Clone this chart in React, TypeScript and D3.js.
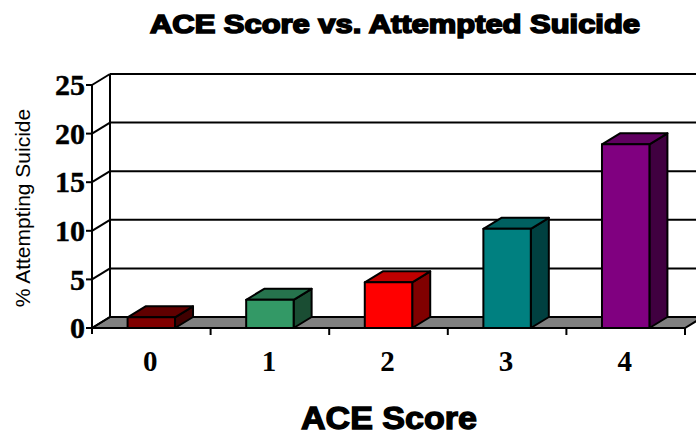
import React from "react";
import * as d3 from "d3";

const categories = ["0", "1", "2", "3", "4"];
const values = [1.1, 2.9, 4.7, 10.2, 18.9];
const yTicks = [0, 5, 10, 15, 20, 25];
const frontColors = ["#800000", "#339966", "#FF0000", "#008080", "#800080"];
const topColors = ["#600000", "#26734d", "#C00000", "#006060", "#600060"];
const sideColors = ["#400000", "#1a4d33", "#800000", "#004040", "#400040"];

const W = 696;
const H = 436;
const DX = 18;
const DY = -11;

export default function App() {
  const x = d3.scaleBand<string>().domain(categories).range([92, 685]);
  const y = d3.scaleLinear().domain([0, 25]).range([328, 85]);
  const bw = x.bandwidth();
  const barW = bw * 0.4;
  const y0 = y(0);
  const xL = 92;
  const xR = 685;

  return (
    <svg
      width={W}
      height={H}
      style={{ position: "absolute", left: 0, top: 0, background: "#fff" }}
    >
      {/* floor */}
      <polygon
        points={`${xL},${y0} ${xL + DX},${y0 + DY} ${xR + DX},${y0 + DY} ${xR},${y0}`}
        fill="#808080"
        stroke="#000"
        strokeWidth={2}
      />
      {/* back wall gridlines */}
      {yTicks.map((t) => (
        <line
          key={"g" + t}
          x1={xL + DX}
          x2={xR + DX}
          y1={y(t) + DY}
          y2={y(t) + DY}
          stroke="#000"
          strokeWidth={2}
        />
      ))}
      {/* side wall diagonals */}
      {yTicks.map((t) => (
        <line
          key={"d" + t}
          x1={xL}
          x2={xL + DX}
          y1={y(t)}
          y2={y(t) + DY}
          stroke="#000"
          strokeWidth={2}
        />
      ))}
      {/* back wall vertical */}
      <line x1={xL + DX} x2={xL + DX} y1={y(25) + DY} y2={y0 + DY} stroke="#000" strokeWidth={2} />
      {/* bars */}
      {values.map((v, i) => {
        const c = categories[i];
        const bx0 = (x(c) as number) + bw / 2 - barW / 2;
        const bx1 = bx0 + barW;
        const yv = y(v);
        return (
          <g key={"b" + i} stroke="#000" strokeWidth={2} strokeLinejoin="round">
            <polygon
              points={`${bx1},${yv} ${bx1 + DX},${yv + DY} ${bx1 + DX},${y0 + DY} ${bx1},${y0}`}
              fill={sideColors[i]}
            />
            <polygon
              points={`${bx0},${yv} ${bx0 + DX},${yv + DY} ${bx1 + DX},${yv + DY} ${bx1},${yv}`}
              fill={topColors[i]}
            />
            <rect x={bx0} y={yv} width={barW} height={y0 - yv} fill={frontColors[i]} />
          </g>
        );
      })}
      {/* front y axis */}
      <line x1={xL} x2={xL} y1={y(25)} y2={y0 + 6} stroke="#000" strokeWidth={2} />
      {yTicks.map((t) => (
        <line key={"yt" + t} x1={xL - 6} x2={xL} y1={y(t)} y2={y(t)} stroke="#000" strokeWidth={2} />
      ))}
      {yTicks.map((t) => (
        <text
          key={"yl" + t}
          x={xL - 7}
          y={y(t)}
          dy="0.34em"
          textAnchor="end"
          fontFamily="'Liberation Serif', serif"
          fontWeight="bold"
          fontSize={30}
          stroke="#000"
          strokeWidth={0.4}
        >
          {t}
        </text>
      ))}
      {/* x category ticks */}
      {categories.map((c) => (
        <line
          key={"xt" + c}
          x1={(x(c) as number) + bw}
          x2={(x(c) as number) + bw}
          y1={y0}
          y2={y0 + 7}
          stroke="#000"
          strokeWidth={2}
        />
      ))}
      {categories.map((c) => (
        <text
          key={"xl" + c}
          x={(x(c) as number) + bw / 2 - 1}
          y={371}
          textAnchor="middle"
          fontFamily="'Liberation Serif', serif"
          fontWeight="bold"
          fontSize={29}
        >
          {c}
        </text>
      ))}
      {/* title */}
      <text
        x={395}
        y={33}
        textAnchor="middle"
        fontFamily="'Liberation Sans', Arial, sans-serif"
        fontWeight="bold"
        fontSize={25}
        stroke="#000"
        strokeWidth={1.6}
        textLength={490}
        lengthAdjust="spacingAndGlyphs"
      >
        ACE Score vs. Attempted Suicide
      </text>
      {/* x axis title */}
      <text
        x={389}
        y={429}
        textAnchor="middle"
        fontFamily="'Liberation Sans', Arial, sans-serif"
        fontWeight="bold"
        fontSize={31}
        stroke="#000"
        strokeWidth={1.3}
        textLength={176}
        lengthAdjust="spacingAndGlyphs"
      >
        ACE Score
      </text>
      {/* y axis title */}
      <text
        transform="translate(30,208) rotate(-90)"
        textAnchor="middle"
        fontFamily="'Liberation Sans', Arial, sans-serif"
        fontSize={21}
      >
        % Attempting Suicide
      </text>
    </svg>
  );
}
